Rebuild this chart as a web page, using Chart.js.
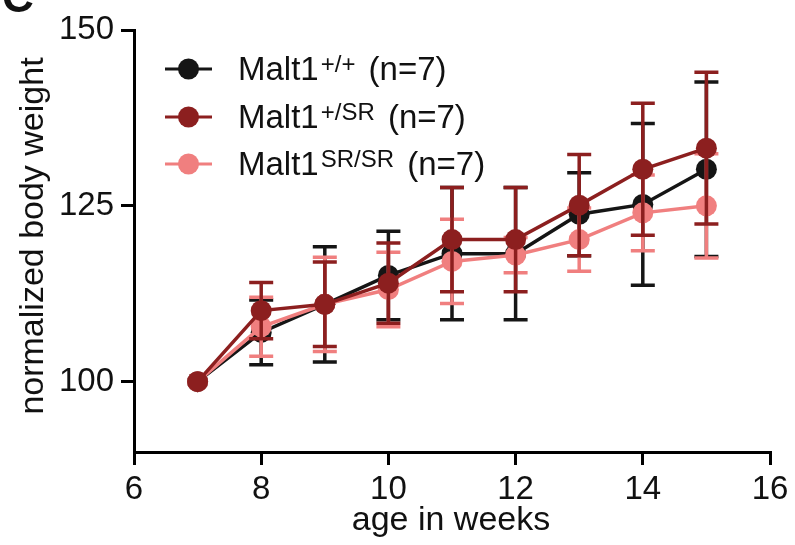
<!DOCTYPE html>
<html>
<head>
<meta charset="utf-8">
<script src="https://cdn.jsdelivr.net/npm/chart.js@4"></script>
<style>
  html, body { margin: 0; padding: 0; background: #fff; }
  #wrap { position: relative; width: 795px; height: 545px; }
</style>
</head>
<body>
<div id="wrap"><canvas id="grafico" width="795" height="545"></canvas></div>
<script>
// datos
const semanas = [7, 8, 9, 10, 11, 12, 13, 14, 15];

const wtMedia = [100, 107.0, 111.0, 115.1, 118.2, 118.2, 123.8, 125.2, 130.2];
const wtError = [0, 4.6, 8.2, 6.3, 9.4, 9.4, 5.9, 11.5, 12.4];

const hetMedia = [100, 110.1, 111.0, 114.0, 120.2, 120.2, 125.1, 130.2, 133.2];
const hetError = [0, 4.0, 6.0, 5.7, 7.4, 7.4, 7.2, 9.4, 10.8];

const koMedia = [100, 107.8, 111.0, 113.1, 117.1, 118.0, 120.2, 124.0, 125.0];
const koError = [0, 4.2, 6.7, 5.3, 6.0, 2.5, 4.5, 5.4, 7.4];

const ticksY = [100, 125, 150];

const negro = '#151515';
const granate = '#8c1f1f';
const rosa = '#f07f7f';

const fuente = "'Liberation Sans', Arial, sans-serif";

function puntos(medias) {
    return semanas.map((s, i) => ({ x: s, y: medias[i] }));
}

function serie(nombre, medias, errores, color, orden) {
    return {
        label: nombre,
        data: puntos(medias),
        errores: errores,
        borderColor: color,
        backgroundColor: color,
        pointBackgroundColor: color,
        pointBorderWidth: 0,
        pointRadius: 10.5,
        pointHoverRadius: 10.5,
        borderWidth: 3.5,
        tension: 0,
        order: orden
    };
}

// barras de error dibujadas antes de cada serie
const barrasError = {
    id: 'barrasError',
    beforeDatasetDraw(chart, args) {
        const ds = chart.data.datasets[args.index];
        const ctx = chart.ctx;
        const y = chart.scales.y;
        ctx.save();
        ctx.strokeStyle = ds.borderColor;
        ctx.lineWidth = 3.5;
        args.meta.data.forEach((p, i) => {
            const e = ds.errores[i];
            if (!e) return;
            const v = ds.data[i].y;
            const arriba = y.getPixelForValue(v + e);
            const abajo = y.getPixelForValue(v - e);
            ctx.beginPath();
            ctx.moveTo(p.x, arriba);
            ctx.lineTo(p.x, abajo);
            ctx.moveTo(p.x - 12, arriba);
            ctx.lineTo(p.x + 12, arriba);
            ctx.moveTo(p.x - 12, abajo);
            ctx.lineTo(p.x + 12, abajo);
            ctx.stroke();
        });
        ctx.restore();
    }
};

// leyenda con superindices, titulos de ejes y letra del panel
const textos = {
    id: 'textos',
    afterDraw(chart) {
        const ctx = chart.ctx;
        ctx.save();
        ctx.fillStyle = '#111';

        // letra del panel (cortada arriba)
        ctx.font = 'bold 44px ' + fuente;
        ctx.textAlign = 'left';
        ctx.textBaseline = 'alphabetic';
        ctx.fillText('C', 2, 12);

        // titulo eje y
        ctx.font = '34px ' + fuente;
        ctx.save();
        ctx.translate(34, 236);
        ctx.rotate(-Math.PI / 2);
        ctx.textAlign = 'center';
        ctx.textBaseline = 'middle';
        ctx.fillText('normalized body weight', 0, 0);
        ctx.restore();

        // titulo eje x
        ctx.textAlign = 'center';
        ctx.textBaseline = 'middle';
        ctx.fillText('age in weeks', 451, 521);

        // leyenda
        const filas = [
            { sup: '+/+', color: negro, y: 69 },
            { sup: '+/SR', color: granate, y: 117 },
            { sup: 'SR/SR', color: rosa, y: 164 }
        ];
        filas.forEach(f => {
            ctx.strokeStyle = f.color;
            ctx.fillStyle = f.color;
            ctx.lineWidth = 3;
            ctx.beginPath();
            ctx.moveTo(165, f.y);
            ctx.lineTo(212, f.y);
            ctx.stroke();
            ctx.beginPath();
            ctx.arc(188.5, f.y, 10.5, 0, Math.PI * 2);
            ctx.fill();

            ctx.fillStyle = '#111';
            ctx.textAlign = 'left';
            ctx.textBaseline = 'alphabetic';
            const base = f.y + 11;
            let x = 238;
            ctx.font = '33px ' + fuente;
            ctx.fillText('Malt1', x, base);
            x += ctx.measureText('Malt1').width + 2;
            ctx.font = '24px ' + fuente;
            ctx.fillText(f.sup, x, base - 8);
            x += ctx.measureText(f.sup).width + 4;
            ctx.font = '33px ' + fuente;
            ctx.fillText(' (n=7)', x, base);
        });
        ctx.restore();
    }
};

const ctx = document.getElementById('grafico').getContext('2d');
new Chart(ctx, {
    type: 'line',
    data: {
        datasets: [
            serie('Malt1 +/+ (n=7)', wtMedia, wtError, negro, 2),
            serie('Malt1 +/SR (n=7)', hetMedia, hetError, granate, 0),
            serie('Malt1 SR/SR (n=7)', koMedia, koError, rosa, 1)
        ]
    },
    options: {
        responsive: false,
        animation: false,
        events: [],
        layout: { padding: { top: 30, right: 25, bottom: 0, left: 0 } },
        plugins: {
            legend: { display: false },
            tooltip: { enabled: false }
        },
        scales: {
            x: {
                type: 'linear',
                min: 6,
                max: 16,
                border: { display: true, color: '#000', width: 3 },
                grid: { drawOnChartArea: false, drawTicks: true, tickLength: 13, color: '#000', lineWidth: 3 },
                ticks: { stepSize: 2, color: '#111', padding: 5, font: { family: fuente, size: 33 } },
                afterFit(scale) { scale.height = 93; }
            },
            y: {
                min: 90,
                max: 150,
                border: { display: true, color: '#000', width: 3 },
                grid: { drawOnChartArea: false, drawTicks: true, tickLength: 13, color: '#000', lineWidth: 3 },
                ticks: { color: '#111', padding: 7, font: { family: fuente, size: 33 } },
                afterBuildTicks(scale) { scale.ticks = ticksY.map(v => ({ value: v })); },
                afterFit(scale) { scale.width = 134; }
            }
        }
    },
    plugins: [barrasError, textos]
});
</script>
</body>
</html>
